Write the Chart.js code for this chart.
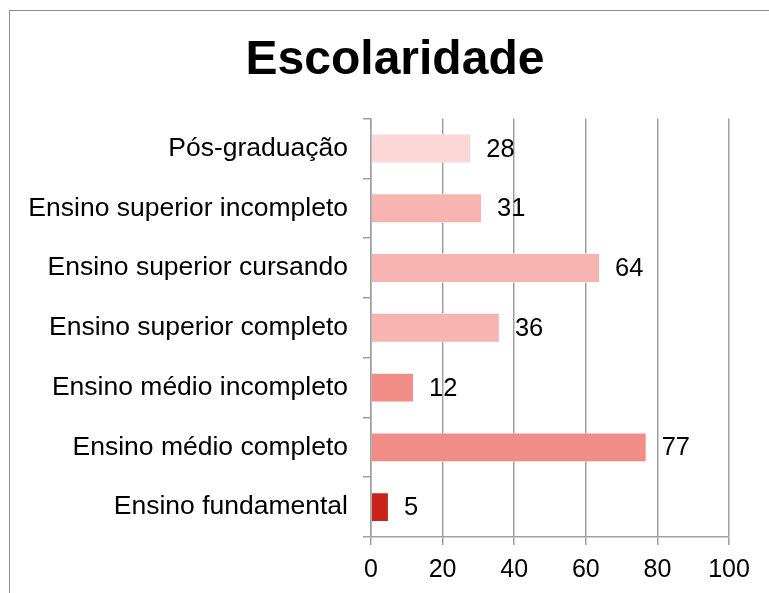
<!DOCTYPE html>
<html>
<head>
<meta charset="utf-8">
<script src="https://cdn.jsdelivr.net/npm/chart.js@4/dist/chart.umd.min.js"></script>
<style>
    html, body { margin: 0; padding: 0; background: #fff; overflow: hidden; }
    #wrap { position: relative; width: 769px; height: 593px; }
    #frame { position: absolute; left: 9px; top: 10px; width: 800px; height: 700px; border: 1.5px solid #8c8c8c; box-sizing: border-box; }
    canvas { position: absolute; left: 0; top: 0; }
</style>
</head>
<body>
<div id="wrap">
    <div id="frame"></div>
    <canvas id="escolaridadeChart" width="769" height="593"></canvas>
</div>
<script>
// Dados do gráfico
const categorias = [
    'Pós-graduação',
    'Ensino superior incompleto',
    'Ensino superior cursando',
    'Ensino superior completo',
    'Ensino médio incompleto',
    'Ensino médio completo',
    'Ensino fundamental'
];
const valores = [28, 31, 64, 36, 12, 77, 5];
const cores = ['#fbd7d6', '#f7b4b0', '#f7b4b0', '#f7b4b0', '#f28c86', '#f28c86', '#c8231a'];
const ticksX = [0, 20, 40, 60, 80, 100];

const fonte = "Arial, 'Liberation Sans', sans-serif";

// Rótulos de valor ao lado das barras
const valueLabels = {
    id: 'valueLabels',
    afterDatasetsDraw(chart) {
        const ctx = chart.ctx;
        const meta = chart.getDatasetMeta(0);
        ctx.save();
        ctx.font = '25.5px ' + fonte;
        ctx.fillStyle = '#000';
        ctx.textAlign = 'left';
        ctx.textBaseline = 'middle';
        meta.data.forEach((bar, i) => {
            ctx.fillText(String(valores[i]), bar.x + 15, bar.y + 1);
        });
        ctx.restore();
    }
};

// Centraliza o título sobre o quadro (não sobre o canvas todo)
const titleShift = {
    id: 'titleShift',
    afterLayout(chart) {
        if (chart.titleBlock) {
            chart.titleBlock.left = 61;
            chart.titleBlock.right = 729;
        }
    }
};

const ctx = document.getElementById('escolaridadeChart').getContext('2d');
const escolaridadeChart = new Chart(ctx, {
    type: 'bar',
    data: {
        labels: categorias,
        datasets: [{
            data: valores,
            backgroundColor: cores,
            borderColor: 'rgba(255,255,255,0.5)',
            borderWidth: 1,
            barPercentage: 0.5,
            categoryPercentage: 1
        }]
    },
    options: {
        indexAxis: 'y',
        responsive: false,
        animation: false,
        layout: {
            padding: { top: 10, right: 40, bottom: 0, left: 0 }
        },
        plugins: {
            legend: { display: false },
            tooltip: { enabled: false },
            title: {
                display: true,
                text: 'Escolaridade',
                color: '#000',
                font: { family: fonte, size: 48, weight: 'bold' },
                padding: { top: 22, bottom: 29 }
            }
        },
        scales: {
            x: {
                min: 0,
                max: 100,
                afterBuildTicks: function (scale) {
                    scale.ticks = ticksX.map(v => ({ value: v }));
                },
                afterFit: function (scale) {
                    scale.height = 56;
                },
                grid: {
                    color: '#a0a0a0',
                    lineWidth: 1.5,
                    tickLength: 8,
                    drawTicks: true
                },
                border: { color: '#a0a0a0', width: 1.5 },
                ticks: {
                    color: '#000',
                    padding: 10,
                    font: { family: fonte, size: 25 }
                }
            },
            y: {
                afterFit: function (scale) {
                    scale.width = 371;
                },
                grid: {
                    display: true,
                    drawOnChartArea: false,
                    offset: true,
                    tickLength: 8,
                    color: '#a0a0a0',
                    lineWidth: 1.5
                },
                border: { color: '#a0a0a0', width: 1.5 },
                ticks: {
                    color: '#000',
                    padding: 15,
                    font: { family: fonte, size: 26.5 }
                }
            }
        }
    },
    plugins: [valueLabels, titleShift]
});
</script>
</body>
</html>
